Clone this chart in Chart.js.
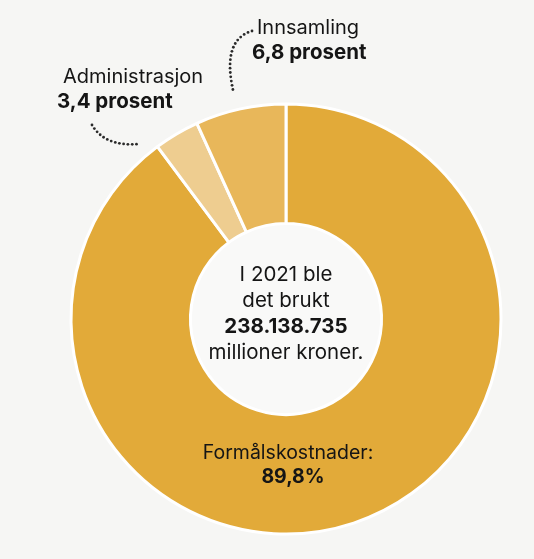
<!DOCTYPE html>
<html>
<head>
<meta charset="utf-8">
<script src="https://cdn.jsdelivr.net/npm/chart.js@4.4.1/dist/chart.umd.min.js"></script>
<style>
  html, body { margin: 0; padding: 0; background: #f6f6f4; }
  #wrap { width: 534px; height: 559px; position: relative; }
</style>
</head>
<body>
<div id="wrap"><canvas id="c" width="534" height="559"></canvas></div>
<script>
const categories = ['Formålskostnader', 'Administrasjon', 'Innsamling'];
const values = [89.8, 3.4, 6.8];
const valueLabels = ['89,8%', '3,4 prosent', '6,8 prosent'];
const sliceColors = ['#e2aa39', '#eecd90', '#e8b75a'];
const centerLines = ['I 2021 ble', 'det brukt', '238.138.735', 'millioner kroner.'];

const FONT = 'Inter, "Noto Sans", sans-serif';

function dotted(ctx, p0, c, p1, spacing) {
  const pts = [];
  const N = 400;
  let prev = null, acc = spacing;
  for (let i = 0; i <= N; i++) {
    const t = i / N;
    const x = (1-t)*(1-t)*p0[0] + 2*(1-t)*t*c[0] + t*t*p1[0];
    const y = (1-t)*(1-t)*p0[1] + 2*(1-t)*t*c[1] + t*t*p1[1];
    if (prev) acc += Math.hypot(x - prev[0], y - prev[1]);
    if (acc >= spacing) { pts.push([x, y]); acc = 0; }
    prev = [x, y];
  }
  ctx.fillStyle = '#2a2a2a';
  pts.forEach(p => { ctx.beginPath(); ctx.arc(p[0], p[1], 1.4, 0, Math.PI*2); ctx.fill(); });
}

const labelPlugin = {
  id: 'labels',
  beforeDatasetsDraw(chart) {
    const ctx = chart.ctx;
    const arc = chart.getDatasetMeta(0).data[0];
    ctx.save();
    ctx.fillStyle = '#f9f9f8';
    ctx.beginPath();
    ctx.arc(arc.x, arc.y, arc.innerRadius, 0, Math.PI * 2);
    ctx.fill();
    ctx.restore();
  },
  afterDraw(chart) {
    const ctx = chart.ctx;
    const arc = chart.getDatasetMeta(0).data[0];
    const cx = arc.x, cy = arc.y;
    ctx.save();
    ctx.fillStyle = '#151515';
    ctx.textBaseline = 'middle';
    ctx.textAlign = 'center';
    centerLines.forEach((t, i) => {
      ctx.font = (i === 2 ? '700 ' : '400 ') + '20.5px ' + FONT;
      ctx.fillText(t, cx, cy - 44 + i * 26);
    });
    ctx.font = '400 19.5px ' + FONT;
    ctx.fillText(categories[0] + ':', cx + 2, cy + 134);
    ctx.font = '700 19.5px ' + FONT;
    ctx.fillText(valueLabels[0], cx + 7, cy + 158);
    ctx.textAlign = 'left';
    ctx.font = '400 20px ' + FONT;
    ctx.fillText(categories[2], cx - 29, cy - 291);
    ctx.font = '700 20.5px ' + FONT;
    ctx.fillText(valueLabels[2], cx - 34, cy - 266);
    ctx.font = '400 20px ' + FONT;
    ctx.fillText(categories[1], cx - 223, cy - 242);
    ctx.font = '700 20.5px ' + FONT;
    ctx.fillText(valueLabels[1], cx - 229, cy - 217);
    dotted(ctx, [cx - 34, cy - 288], [cx - 64, cy - 279], [cx - 53, cy - 229], 4.2);
    dotted(ctx, [cx - 194, cy - 194], [cx - 181, cy - 172], [cx - 147, cy - 175], 4.2);
    ctx.restore();
  }
};

new Chart(document.getElementById('c'), {
  type: 'doughnut',
  data: {
    labels: categories,
    datasets: [{
      data: values,
      backgroundColor: sliceColors,
      borderColor: '#ffffff',
      borderWidth: 3,
      hoverOffset: 0
    }]
  },
  options: {
    responsive: false,
    animation: false,
    radius: 215,
    cutout: 106,
    layout: { padding: { left: 38, right: 0, top: 79, bottom: 0 } },
    plugins: { legend: { display: false }, tooltip: { enabled: false } }
  },
  plugins: [labelPlugin]
});
</script>
</body>
</html>
